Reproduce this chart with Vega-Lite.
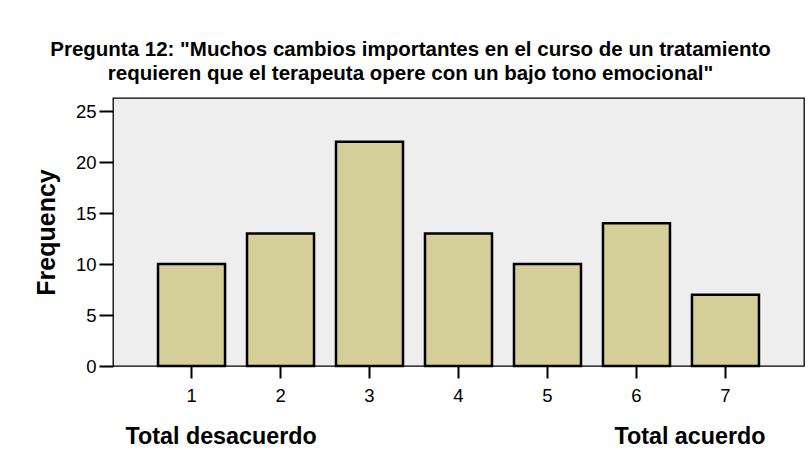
{
  "$schema": "https://vega.github.io/schema/vega-lite/v6.json",
  "width": 691,
  "height": 268,
  "autosize": {"type": "none"},
  "padding": {"left": 113, "top": 98, "right": 5, "bottom": 85},
  "background": "white",
  "title": {
    "text": ["Pregunta 12: \"Muchos cambios importantes en el curso de un tratamiento", "requieren que el terapeuta opere con un bajo tono emocional\""],
    "font": "Liberation Sans",
    "fontSize": 20.5,
    "fontWeight": "bold",
    "color": "black",
    "lineHeight": 24,
    "anchor": "middle",
    "dx": -48,
    "offset": 14
  },
  "data": {
    "values": [
      {"answer": "1", "frequency": 10},
      {"answer": "2", "frequency": 13},
      {"answer": "3", "frequency": 22},
      {"answer": "4", "frequency": 13},
      {"answer": "5", "frequency": 10},
      {"answer": "6", "frequency": 14},
      {"answer": "7", "frequency": 7}
    ]
  },
  "mark": {"type": "bar", "fill": "#d4cf98", "stroke": "black", "strokeWidth": 2.5},
  "encoding": {
    "x": {
      "field": "answer",
      "type": "ordinal",
      "scale": {"paddingInner": 0.247, "paddingOuter": 0.506},
      "axis": {
        "title": "Total desacuerdo\u00a0\u00a0\u00a0\u00a0\u00a0\u00a0\u00a0\u00a0\u00a0\u00a0\u00a0\u00a0\u00a0\u00a0\u00a0\u00a0\u00a0\u00a0\u00a0\u00a0\u00a0\u00a0\u00a0\u00a0\u00a0\u00a0\u00a0\u00a0\u00a0\u00a0\u00a0\u00a0\u00a0\u00a0\u00a0\u00a0\u00a0\u00a0\u00a0\u00a0\u00a0\u00a0\u00a0\u00a0\u00a0\u00a0Total acuerdo",
        "titleFont": "Liberation Sans",
        "titleFontSize": 23.3,
        "titleFontWeight": "bold",
        "titleColor": "black",
        "titleX": 332,
        "titleY": 70,
        "titleAlign": "center",
        "titleBaseline": "middle",
        "domain": false,
        "ticks": true,
        "tickSize": 12,
        "tickWidth": 2,
        "tickColor": "black",
        "labelAngle": 0,
        "labelFont": "Liberation Sans",
        "labelFontSize": 18.5,
        "labelColor": "black",
        "labelBaseline": "middle",
        "labelPadding": 17
      }
    },
    "y": {
      "field": "frequency",
      "type": "quantitative",
      "scale": {"domain": [0, 26.3], "nice": false},
      "axis": {
        "title": "Frequency",
        "titleFont": "Liberation Sans",
        "titleFontSize": 25,
        "titleFontWeight": "bold",
        "titleColor": "black",
        "titleX": -67,
        "titleY": 134,
        "titleAngle": -90,
        "titleAlign": "center",
        "titleBaseline": "middle",
        "values": [0, 5, 10, 15, 20, 25],
        "grid": false,
        "domain": false,
        "tickSize": 14,
        "tickWidth": 2,
        "tickColor": "black",
        "labelFont": "Liberation Sans",
        "labelFontSize": 18.5,
        "labelColor": "black",
        "labelPadding": 3
      }
    }
  },
  "config": {
    "view": {"fill": "#eeeeee", "stroke": "black", "strokeWidth": 1.3}
  }
}
